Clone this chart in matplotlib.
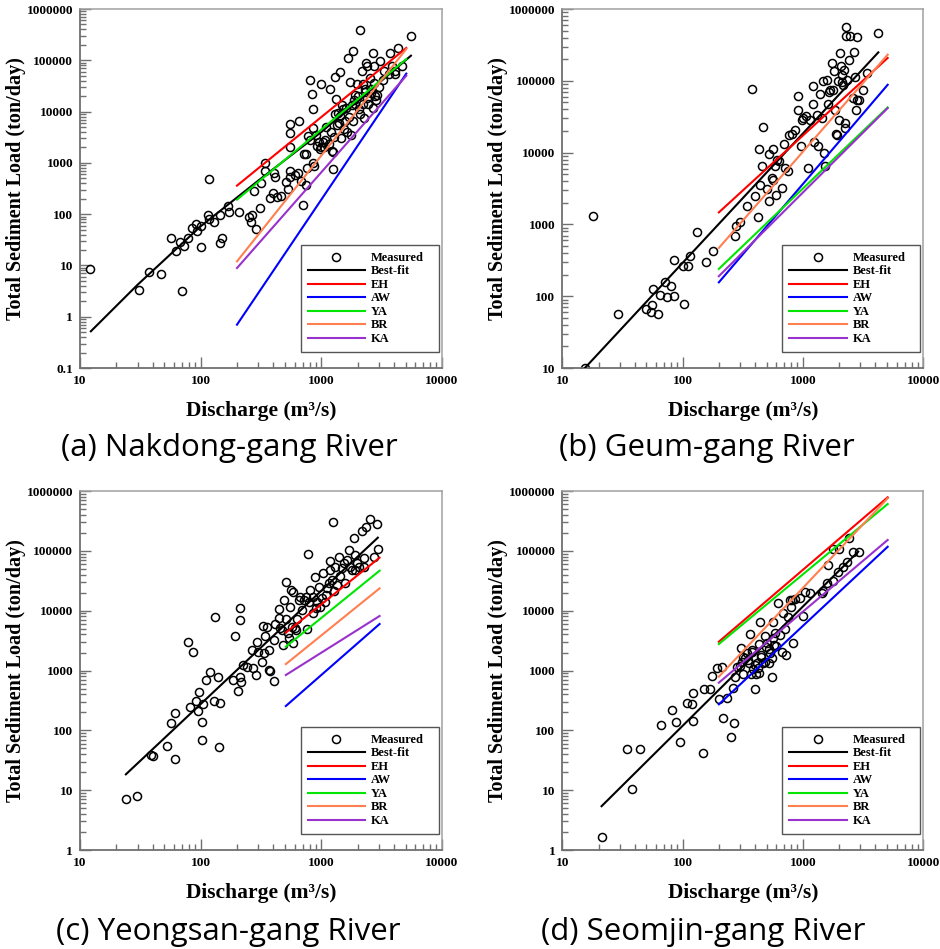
import numpy as np
import matplotlib
matplotlib.use("Agg")
import matplotlib.pyplot as plt
from matplotlib.ticker import LogLocator, FuncFormatter, NullFormatter
from matplotlib.lines import Line2D

# -------------------------
# Data
# -------------------------
# (a) Nakdong-gang
nak_q = [12, 31, 37, 47, 70, 57, 63, 67, 73, 78, 85, 92, 93, 100, 101, 114, 118, 118, 130, 145,
         145, 151, 168, 173, 208, 252, 260, 265, 288, 278, 311, 317, 340, 340, 372, 396, 406, 417,
         428, 465, 511, 528, 545, 545, 552, 552, 555, 603, 639, 647, 676, 703, 721, 749, 740, 758,
         769, 809, 834, 851, 851, 873, 861, 918, 966, 991, 1030, 1077, 1185, 1222, 1247, 1262,
         1286, 1327, 1362, 1415, 1434, 1490, 1578, 1629, 1649, 1713, 1791, 1827, 1827, 1851, 1909,
         1971, 2036, 2075, 2168, 2209, 2239, 2312, 2355, 2386, 2432, 2510, 2575, 2658, 2710, 2743,
         2816, 2889, 3078, 3239, 3322, 3607, 3679, 3848, 4048, 4098, 4288, 4660, 5530,
         1000, 1100, 1150, 1200, 1300, 1350, 1400, 1500, 1550, 1600, 1700, 1750, 1900, 2000,
         2100, 2200, 2400, 2600, 2800, 3000, 900, 950, 1050, 1250, 1450, 800, 2300, 2700]
nak_s = [8.5, 3.3, 7.3, 6.9, 3.2, 35, 19, 29, 24, 35, 53, 64, 46, 58, 23, 97, 80, 490, 69, 98,
         28, 35, 145, 112, 110, 90, 69, 97, 51, 280, 131, 400, 1000, 700, 205, 257, 630, 525,
         220, 228, 430, 310, 680, 540, 3800, 5800, 2000, 570, 630, 6500, 450, 150, 1500, 1500,
         370, 800, 3300, 42000, 22000, 11000, 4800, 850, 1000, 2100, 1900, 34000, 2600, 2800,
         27000, 1700, 750, 3200, 47000, 17500, 9400, 58000, 8100, 13700, 6700, 4000, 110000,
         37000, 13700, 6500, 150000, 17000, 21500, 34000, 11000, 385000, 61000, 34000, 7500,
         27000, 89000, 76000, 14300, 45000, 23000, 139000, 76000, 36000, 17000, 21500, 95000,
         42000, 61000, 53000, 139000, 76000, 61000, 53000, 174000, 76000, 302000,
         2000, 5000, 2300, 4000, 9000, 5500, 6000, 11000, 4500, 12000, 8000, 3500, 14000, 20000,
         9000, 14000, 18000, 28000, 20000, 30000, 3500, 2600, 2000, 1600, 3000, 2800, 24000, 12000]
nak_fit_q = [12.3, 30, 100, 300, 1000, 5530]
nak_fit_s = [0.52, 4.2, 58, 450, 4000, 123000]
nak_model_q = [200, 5060]
nak_eh = [360, 174000]
nak_aw = [0.70, 55000]
nak_ya = [192, 106000]
nak_br = [12, 166000]
nak_ka = [8.9, 50000]

# (b) Geum-gang
geum_q = [15.4, 17.9, 28.8, 50, 55, 56, 57, 63, 65, 72, 74, 80, 85, 85, 101, 102, 111, 115, 132,
          155, 180, 272, 276, 299, 340, 379, 402, 420, 428, 440, 454, 468, 499, 521, 525, 549,
          560, 567, 585, 593, 612, 632, 665, 695, 709, 755, 770, 815, 858, 903, 915, 957, 987,
          1006, 1059, 1107, 1143, 1203, 1218, 1242, 1300, 1341, 1384, 1429, 1456, 1495, 1523,
          1573, 1603, 1644, 1676, 1730, 1765, 1811, 1845, 1881, 1905, 1941, 2004, 2029, 2056,
          2095, 2123, 2163, 2192, 2220, 2248, 2276, 2276, 2335, 2396, 2460, 2588, 2655, 2704,
          2755, 2828, 2828, 2918, 3132, 3383, 4230]
geum_s = [10, 1290, 56, 66, 61, 75, 127, 56, 105, 156, 96, 137, 100, 323, 261, 79, 261, 359, 792,
          299, 421, 696, 940, 1070, 1790, 77600, 2460, 1270, 11300, 3570, 6440, 22500, 3110,
          9550, 2140, 4430, 11300, 4200, 6440, 2600, 7800, 7550, 3210, 13300, 6110, 5490, 17800,
          18400, 20900, 62100, 39600, 12500, 28800, 30400, 32000, 6110, 28800, 85500, 48000,
          13900, 33700, 12200, 66200, 30400, 100000, 9860, 6440, 104000, 47500, 69000, 75200,
          177000, 75200, 135000, 39600, 18400, 17800, 98400, 28800, 244000, 159000, 95300,
          122000, 88300, 143000, 25800, 22000, 416000, 556000, 104000, 197000, 416000, 57500,
          249000, 113000, 39600, 403000, 54600, 54600, 73600, 129000, 463000]
geum_fit_q = [15.4, 4230]
geum_fit_s = [10, 249000]
geum_model_q = [200, 5060]
geum_eh = [1470, 208000]
geum_aw = [156, 88000]
geum_ya = [240, 42600]
geum_br = [470, 231000]
geum_ka = [190, 41700]

# (c) Yeongsan-gang
yeong_q = [24, 29.5, 39, 40.5, 53, 56.5, 61, 61, 81, 78, 86, 91, 95, 96, 103, 103.5, 105, 110,
           120, 130, 132, 140, 142, 144, 184, 194, 203, 211, 212, 212, 216, 223, 241, 265, 274,
           288, 292, 296, 323, 327, 332, 342, 353, 365, 370, 377, 402, 407, 417, 442, 450, 456,
           471, 480, 492, 508, 511, 525, 535, 552, 559, 570, 577, 588, 600, 615, 627, 647, 668,
           690, 721, 749, 758, 769, 783, 809, 851, 861, 884, 906, 918, 948, 979, 1010, 1042,
           1063, 1097, 1125, 1147, 1170, 1185, 1222, 1247, 1262, 1303, 1345, 1389, 1434, 1481,
           1528, 1578, 1629, 1682, 1735, 1791, 1851, 1885, 1909, 1971, 2036, 2168, 2239, 2267,
           2355, 2510, 2743, 2889, 2925]
yeong_s = [7.2, 8.1, 38.7, 37.2, 55.5, 131, 33.6, 197, 245, 3030, 2070, 309, 213, 443, 140, 69,
           272, 694, 932, 309, 7940, 769, 52, 290, 694, 3770, 454, 789, 6980, 10900, 634, 1240,
           1160, 2200, 1110, 841, 2960, 2070, 1400, 5540, 1940, 3770, 5400, 2200, 1020, 981,
           3230, 676, 5990, 10500, 7450, 5070, 4750, 2670, 15100, 30500, 7160, 4180, 3450,
           11700, 22100, 5400, 20800, 2840, 5070, 4750, 7160, 15100, 17100, 10300, 15100, 17100,
           4880, 87400, 14100, 22100, 9020, 17100, 37000, 10900, 14100, 25200, 11700, 16100,
           42000, 14100, 18300, 23600, 28600, 68500, 47800, 32600, 307000, 21600, 54300, 26800,
           77900, 38000, 51000, 61800, 28600, 70300, 103000, 54300, 47800, 162000, 85200, 47800,
           61800, 54300, 214000, 75000, 53000, 253000, 336000, 77900, 277000, 106000]
yeong_fit_q = [24, 2940]
yeong_fit_s = [18.4, 166000]
yeong_model_q = [508, 3040]
yeong_eh = [4290, 76900]
yeong_aw = [255, 5990]
yeong_ya = [2500, 46600]
yeong_br = [1280, 23600]
yeong_ka = [841, 8150]

# (d) Seomjin-gang
seom_q = [21.2, 34.3, 37.7, 44.2, 66, 82, 88, 95.7, 108, 119, 121, 123, 149, 151, 169, 176, 192,
          202, 211, 218, 232, 251, 260, 269, 272, 281, 303, 309, 319, 330, 340, 353, 363, 367,
          374, 386, 399, 406, 417, 433, 439, 445, 462, 483, 493, 506, 525, 532, 549, 560, 567,
          574, 585, 624, 644, 665, 687, 709, 722, 746, 780, 790, 805, 821, 858, 944, 993, 1040,
          1143, 1429, 1476, 1593, 1624, 1765, 1787, 1968, 2004, 2136, 2335, 2410, 2588, 2938,
          300, 320, 350, 380, 420, 450, 480, 520, 550, 600, 400, 430]
seom_s = [1.65, 48.1, 10.5, 49.4, 121, 216, 136, 63.8, 283, 272, 415, 141, 41.8, 484, 497, 809,
          1090, 330, 1160, 161, 343, 78.4, 503, 131, 769, 1160, 2410, 1400, 875, 1600, 1940,
          1320, 4020, 863, 2070, 1050, 484, 875, 1320, 2740, 6550, 1700, 1320, 3770, 2500, 2840,
          1350, 1940, 789, 6470, 3540, 2670, 4180, 13300, 3920, 2070, 9020, 4880, 1820, 7940,
          15100, 11700, 15100, 2920, 15500, 16100, 8150, 20800, 19500, 20100, 21600, 28600,
          58000, 31700, 106000, 44900, 106000, 54300, 65900, 162000, 96900, 96900,
          1200, 1700, 1500, 2200, 1100, 1800, 1400, 2300, 1600, 2600, 1250, 900]
seom_fit_q = [21.2, 2880]
seom_fit_s = [5.4, 96900]
seom_model_q = [200, 5060]
seom_eh = [3030, 784000]
seom_aw = [272, 117000]
seom_ya = [2770, 606000]
seom_br = [789, 754000]
seom_ka = [626, 152000]

model_names = ["EH", "AW", "YA", "BR", "KA"]
model_colors = ["#ff0000", "#0000ff", "#00e600", "#ff7f50", "#9932cc"]

captions = ["(a) Nakdong-gang River", "(b) Geum-gang River",
            "(c) Yeongsan-gang River", "(d) Seomjin-gang River"]

# -------------------------
# Drawing
# -------------------------
SERIF = ["Liberation Serif", "DejaVu Serif"]
SPINE = "#707070"


def fmt_tick(v, pos):
    return f"{v:g}" if v < 1 else f"{v:.0f}"


def draw_panel(ax, q, s, fit_q, fit_s, model_q, models, ylim):
    ax.plot(q, s, "o", ls="none", mfc="none", mec="black", ms=5.8, mew=1.1, zorder=2)
    ax.plot(fit_q, fit_s, color="black", lw=1.5, zorder=3)
    for vals, c in zip(models, model_colors):
        ax.plot(model_q, vals, color=c, lw=1.5, zorder=3)
    ax.set_xscale("log")
    ax.set_yscale("log")
    ax.set_xlim(10, 10000)
    ax.set_ylim(*ylim)

    for sp in ["left", "bottom"]:
        ax.spines[sp].set_color(SPINE)
        ax.spines[sp].set_linewidth(1.3)
    for sp in ["right", "top"]:
        ax.spines[sp].set_color("#a0a0a0")
        ax.spines[sp].set_linewidth(1.1)

    for axis in [ax.xaxis, ax.yaxis]:
        axis.set_major_locator(LogLocator(base=10, numticks=20))
        axis.set_minor_locator(LogLocator(base=10, subs=np.arange(2, 10), numticks=200))
        axis.set_major_formatter(FuncFormatter(fmt_tick))
        axis.set_minor_formatter(NullFormatter())
    ax.tick_params(which="both", direction="in", top=False, right=False, color=SPINE, width=1.0)
    ax.tick_params(which="major", length=8, pad=5, labelsize=9.6)
    ax.tick_params(which="minor", length=4.5)
    for lab in ax.get_xticklabels() + ax.get_yticklabels():
        lab.set_family(SERIF)
        lab.set_fontweight("bold")

    ax.set_xlabel("Discharge (m³/s)", family=SERIF, fontweight="bold", fontsize=15.5)
    ax.set_ylabel("Total Sediment Load (ton/day)", family=SERIF, fontweight="bold", fontsize=14.5)
    ax.xaxis.set_label_coords(0.5, -0.092)
    ax.yaxis.set_label_coords(-0.15, 0.5)

    handles = [Line2D([], [], ls="none", marker="o", mfc="none", mec="black", ms=5.8, mew=1.1),
               Line2D([], [], color="black", lw=1.5)]
    handles += [Line2D([], [], color=c, lw=1.5) for c in model_colors]
    leg = ax.legend(handles, ["Measured", "Best-fit"] + model_names,
                    loc="lower left", bbox_to_anchor=(0.61, 0.045, 0.382, 0.303),
                    mode="expand", borderaxespad=0, handlelength=4.6, handletextpad=0.45,
                    labelspacing=0.12, borderpad=0.55, fancybox=False, framealpha=1,
                    prop={"family": SERIF, "weight": "bold", "size": 9})
    leg.get_frame().set_edgecolor("#555555")
    leg.get_frame().set_linewidth(1.0)


fig = plt.figure(figsize=(9.4, 9.49), dpi=100)
ax_a = fig.add_axes([0.0851, 0.6122, 0.3851, 0.3783])
ax_b = fig.add_axes([0.5982, 0.6122, 0.3840, 0.3783])
ax_c = fig.add_axes([0.0851, 0.1043, 0.3851, 0.3783])
ax_d = fig.add_axes([0.5982, 0.1043, 0.3840, 0.3783])

draw_panel(ax_a, nak_q, nak_s, nak_fit_q, nak_fit_s, nak_model_q,
           [nak_eh, nak_aw, nak_ya, nak_br, nak_ka], (0.1, 1e6))
draw_panel(ax_b, geum_q, geum_s, geum_fit_q, geum_fit_s, geum_model_q,
           [geum_eh, geum_aw, geum_ya, geum_br, geum_ka], (10, 1e6))
draw_panel(ax_c, yeong_q, yeong_s, yeong_fit_q, yeong_fit_s, yeong_model_q,
           [yeong_eh, yeong_aw, yeong_ya, yeong_br, yeong_ka], (1, 1e6))
draw_panel(ax_d, seom_q, seom_s, seom_fit_q, seom_fit_s, seom_model_q,
           [seom_eh, seom_aw, seom_ya, seom_br, seom_ka], (1, 1e6))

cap_pos = [(0.2436, 0.528), (0.752, 0.528), (0.2426, 0.018), (0.748, 0.018)]
for (x, y), txt in zip(cap_pos, captions):
    fig.text(x, y, txt, ha="center", va="center", fontsize=22.5, family=["Open Sans", "DejaVu Sans"])

fig.savefig("out.png", dpi=100)
